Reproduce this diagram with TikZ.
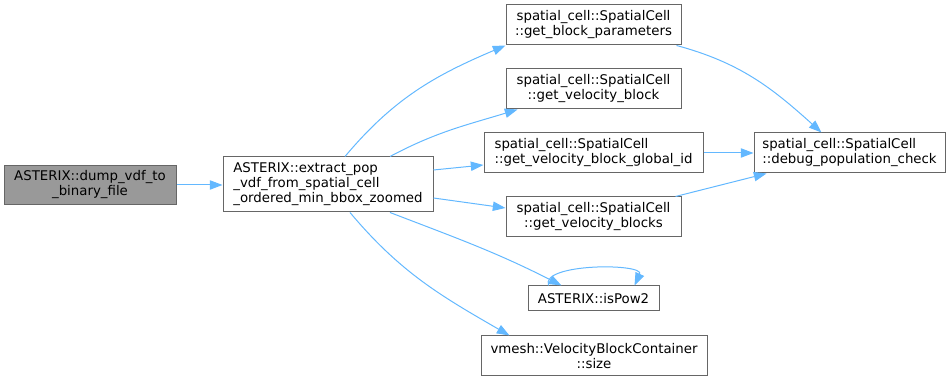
\documentclass[tikz,border=0pt]{standalone}
\usepackage{fontspec}
\setmainfont{DejaVu Sans}
\usetikzlibrary{arrows.meta,calc}
\definecolor{edgeblue}{HTML}{63B8FF}
\definecolor{boxline}{HTML}{666666}
\definecolor{boxfill}{HTML}{999999}
\begin{document}
\begin{tikzpicture}[
	x=0.75pt, y=0.75pt,
	fn/.style={rectangle, draw=boxline, fill=white, line width=0.75pt,
		inner sep=0pt, minimum height=30pt,
		font=\fontsize{10}{11.25}\selectfont, align=center},
	fnroot/.style={fn, fill=boxfill},
	chiama/.style={draw=edgeblue, line width=0.75pt,
		-{Triangle[length=9.5pt,width=7pt,color=edgeblue]}},
	]
	\useasboundingbox (0,0) rectangle (951,381);
	
	% funzione radice e chiamata diretta
	\node[fnroot, minimum width=129pt, minimum height=29.25pt] (dump) at (90,196)
	{ASTERIX::dump\_vdf\_to\\\_binary\_file};
	\node[fn, align=left, minimum width=157.5pt, minimum height=41.25pt] (extract) at (328,196.5)
	{ASTERIX::extract\_pop\\\_vdf\_from\_spatial\_cell\\\_ordered\_min\_bbox\_zoomed};
	
	% funzioni chiamate
	\node[fn, minimum width=131.25pt] (gbp) at (593.5,356)
	{spatial\_cell::SpatialCell\\::get\_block\_parameters};
	\node[fn, minimum width=131.25pt] (gvb) at (593.5,292)
	{spatial\_cell::SpatialCell\\::get\_velocity\_block};
	\node[fn, align=left, minimum width=164.25pt] (gid) at (593.5,228)
	{spatial\_cell::SpatialCell\\::get\_velocity\_block\_global\_id};
	\node[fn, minimum width=131.25pt] (gvbs) at (593.5,164)
	{spatial\_cell::SpatialCell\\::get\_velocity\_blocks};
	\node[fn, minimum width=98.25pt, minimum height=18.75pt] (pow) at (593.5,82.5)
	{ASTERIX::isPow2};
	\node[fn, minimum width=169.5pt] (size) at (594,25)
	{vmesh::VelocityBlockContainer\\::size};
	\node[fn, align=left, minimum width=143.25pt] (debug) at (849.5,228)
	{spatial\_cell::SpatialCell\\::debug\_population\_check};
	
	% archi
	\draw[chiama] (dump.east) -- (dump.east -| extract.west);
	\draw[chiama] ($(extract.north)+(17,0)$) to[out=50,in=203] (gbp.south west);
	\draw[chiama] ($(extract.north)+(62,0)$) to[out=28,in=197] ($(gvb.south west)+(12,0)$);
	\draw[chiama] ($(extract.east)+(0,14.5)$) -- ($(gid.west)+(0,-12)$);
	\draw[chiama] ($(extract.east)+(0,-13.5)$) -- ($(gvbs.west)+(0,9)$);
	\draw[chiama] ($(extract.south)+(62,0)$) to[out=-21,in=153] ($(pow.north)+(-32,0)$);
	\draw[chiama] ($(extract.south)+(22,0)$) to[out=-50,in=150] ($(size.north west)+(29,0)$);
	\draw[chiama] ($(pow.north)+(-45,0)$) .. controls (540,118) and (645,118) .. ($(pow.north)+(41,0)$);
	\draw[chiama] ($(gbp.south east)+(-5,0)$) to[out=-15,in=138] ($(debug.north west)+(68,0)$);
	\draw[chiama] (gid.east) -- (debug.west);
	\draw[chiama] ($(gvbs.north east)+(-6,0)$) -- ($(debug.south west)+(13,0)$);
	
\end{tikzpicture}
\end{document}
